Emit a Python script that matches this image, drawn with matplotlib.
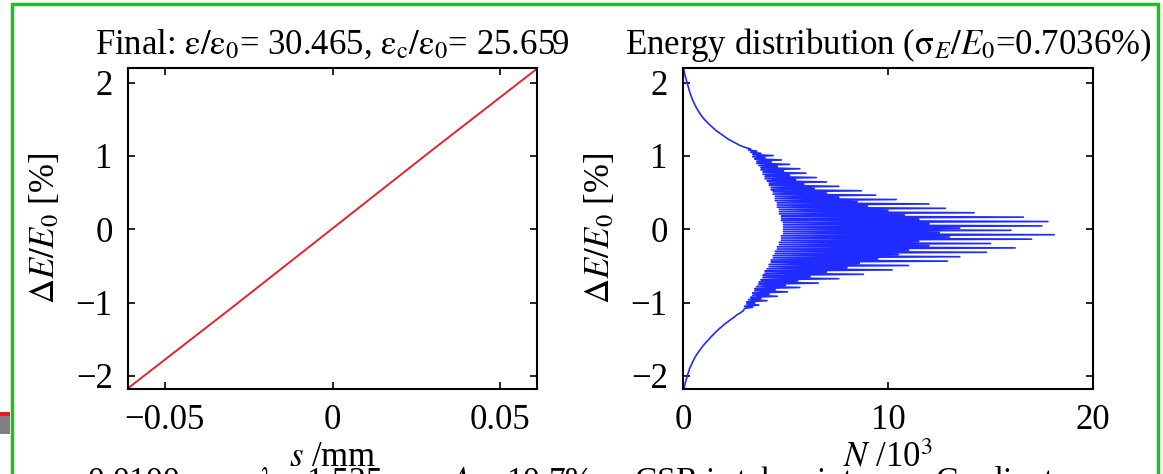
import numpy as np
import matplotlib
matplotlib.use("Agg")
import matplotlib.pyplot as plt
from matplotlib.patches import Rectangle

plt.rcParams['font.family'] = ['Liberation Serif', 'DejaVu Serif']
plt.rcParams['mathtext.fontset'] = 'stix'

# ---- data ----
s_mm = [-0.061, -0.03, 0.0, 0.03, 0.061]
dE_long = [-2.17, -1.07, 0.01, 1.09, 2.19]

# energy histogram, N in units of 10^3
N_tail_low = [0.03, 0.06, 0.08, 0.11, 0.14, 0.17, 0.2, 0.23, 0.27, 0.3,
              0.34, 0.39, 0.44, 0.49, 0.54, 0.6, 0.67, 0.74, 0.82, 0.9,
              0.98, 1.07, 1.17, 1.27, 1.36, 1.47, 1.57, 1.69, 1.8, 1.93,
              2.05, 2.2, 2.34, 2.5, 2.62, 2.8, 2.95]
N_core = [3.0, 3.4, 3.0, 3.7, 3.1, 3.5, 3.1, 4.1, 3.2, 3.8,
          3.3, 4.6, 3.4, 4.2, 3.4, 5.1, 3.5, 4.5, 3.5, 5.7,
          3.6, 5.0, 3.7, 6.6, 3.7, 5.6, 3.8, 7.6, 3.9, 6.2,
          3.9, 8.8, 4.0, 7.0, 4.0, 10.2, 4.1, 8.0, 4.2, 11.0,
          4.2, 8.6, 4.3, 12.9, 4.3, 9.5, 4.4, 13.5, 4.4, 10.5,
          4.5, 14.8, 4.5, 11.0, 4.6, 16.2, 4.6, 12.0, 4.7, 15.0,
          4.7, 11.5, 4.8, 17.0, 4.8, 13.0, 4.8, 18.1, 4.9, 12.5,
          4.9, 16.0, 4.9, 13.5, 4.9, 17.5, 4.9, 12.0, 4.9, 17.8,
          4.8, 11.5, 4.8, 16.6, 4.8, 10.8, 4.7, 14.2, 4.7, 10.0,
          4.7, 12.8, 4.6, 9.0, 4.6, 12.0, 4.6, 8.5, 4.5, 10.4,
          4.5, 7.6, 4.5, 9.4, 4.4, 7.0, 4.4, 8.7, 4.3, 6.4,
          4.3, 7.6, 4.2, 5.9, 4.2, 7.0, 4.1, 5.5, 4.0, 6.5,
          4.0, 5.2, 3.9, 6.0, 3.9, 4.9, 3.8, 5.7, 3.8, 4.6,
          3.7, 5.2, 3.6, 4.3, 3.6, 4.8, 3.5, 4.0, 3.4, 4.4,
          3.4, 3.8, 3.3, 3.6, 3.2, 3.3, 3.1]
N_tail_high = [2.8, 2.6, 2.4, 2.2, 2.05, 1.9, 1.75, 1.6, 1.48, 1.36,
               1.25, 1.14, 1.04, 0.95, 0.87, 0.8, 0.73, 0.67, 0.61, 0.56,
               0.51, 0.46, 0.42, 0.38, 0.34, 0.31, 0.28, 0.25, 0.22, 0.19,
               0.16, 0.13, 0.1, 0.07, 0.05, 0.03]
# bin-centre ranges (dE/E0 in %) for the three segments above
E_low_range = (-2.19, -1.11)
E_core_range = (-1.08, 1.11)
E_high_range = (1.14, 2.19)

left_title = r'Final: $\mathrm{\varepsilon/\varepsilon_0}$= 30.465, $\mathrm{\varepsilon_c/\varepsilon_0}$= 25.659'
right_title = r'Energy distribution ($\mathrm{\sigma}_{E}/E_0$=0.7036%)'
ylabel = r'$\Delta E/E_0$ [%]'
bottom_text = r'= 0.0100 mm, $\lambda$ = 1.525 $\mathrm{\mu}$m, $A$ = 10.7%     CSR is taken into        Gradient'

W, H = 1163, 474
fig = plt.figure(figsize=(W / 100, H / 100), dpi=100)
fs = 25

def px_axes(x0, x1, ytop, ybot):
    return fig.add_axes([x0 / W, (H - ybot) / H, (x1 - x0) / W, (ybot - ytop) / H])

ax1 = px_axes(128, 537, 68, 389)
ax2 = px_axes(683, 1093, 68, 389)

ax1.plot(s_mm, dE_long, color='#e3242b', lw=1.4)
ax1.set_xlim(-0.061, 0.061)
ax1.set_ylim(-2.18, 2.2)
ax1.set_xticks([-0.05, 0, 0.05])
ax1.set_xticklabels(['\u22120.05', '0', '0.05'])
ax1.set_xlabel(r'$s$ /mm', fontsize=fs, labelpad=3)
ax1.set_title(left_title, fontsize=fs, pad=10)

N_counts = N_tail_low + N_core + N_tail_high
E_centers = np.concatenate([
    np.linspace(*E_low_range, len(N_tail_low)),
    np.linspace(*E_core_range, len(N_core)),
    np.linspace(*E_high_range, len(N_tail_high)),
])
ax2.plot(N_counts, E_centers, color='#1f2bff', lw=1.2)
ax2.set_xlim(0, 20)
ax2.set_ylim(-2.18, 2.2)
ax2.set_xticks([0, 10, 20])
ax2.set_xlabel(r'$N$ /10$^3$', fontsize=fs, labelpad=3)
ax2.set_title(right_title, fontsize=fs, pad=10)

for ax in (ax1, ax2):
    ax.set_yticks([-2, -1, 0, 1, 2])
    ax.set_yticklabels(['\u22122', '\u22121', '0', '1', '2'])
    ax.set_ylabel(ylabel, fontsize=fs, labelpad=10)
    ax.tick_params(direction='in', length=5, width=1.2, top=True, right=True,
                   labelsize=fs, pad=11)
    for sp in ax.spines.values():
        sp.set_linewidth(1.5)

# slide frame (green border) and left-edge stub
fig.patches.append(Rectangle((12 / W, -0.1), (1158 - 12) / W, (H - 4) / H + 0.1,
                             transform=fig.transFigure, fill=False,
                             edgecolor='#1fbf1f', lw=2.5))
fig.patches.append(Rectangle((0, (H - 416) / H), 10 / W, 4 / H,
                             transform=fig.transFigure, color='#e02020', lw=0))
fig.patches.append(Rectangle((0, (H - 434) / H), 10 / W, 18 / H,
                             transform=fig.transFigure, color='#808080', lw=0))

fig.text(60 / W, (H - 464) / H, bottom_text, fontsize=24, va='top', ha='left')

fig.savefig('out.png', dpi=100)
